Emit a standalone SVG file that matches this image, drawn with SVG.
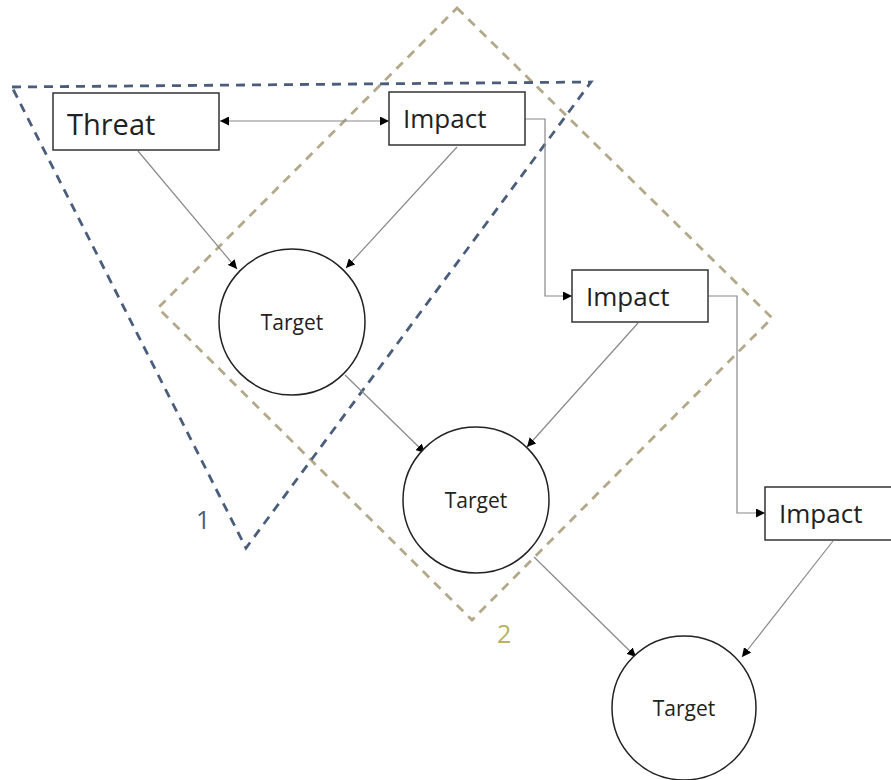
<svg xmlns="http://www.w3.org/2000/svg" width="891" height="780" viewBox="0 0 891 780">
<defs>
<marker id="ah" viewBox="0 0 10 10" refX="10" refY="5" markerWidth="9" markerHeight="9" markerUnits="userSpaceOnUse" orient="auto-start-reverse">
<path d="M0,0 L10,5 L0,10 Z" fill="#000"/>
</marker>
</defs>
<style>
.box{fill:#fff;stroke:#333;stroke-width:1.5}
.circ{fill:#fff;stroke:#222;stroke-width:1.5}
.lbl{font-family:"Open Sans","Liberation Sans",sans-serif;fill:#222}
.big{font-size:29px}
.imp{font-size:26px}
.tgt{font-size:21px}
.con{fill:none;stroke:#888;stroke-width:1.2}
.grp1{fill:none;stroke:#4a5d7a;stroke-width:2.8;stroke-dasharray:9,7}
.grp2{fill:none;stroke:#b3a98a;stroke-width:2.8;stroke-dasharray:9,7}
</style>
<rect width="891" height="780" fill="#fff"/>
<g id="group2">
<polygon class="grp2" points="457,8 772,318 472,620 158,308"/>
<text x="497" y="643" class="lbl" style="fill:#b8b25c;font-size:25px">2</text>
</g>
<g id="group1">
<polygon class="grp1" points="12,87 591,82 246,548"/>
<text x="196" y="529" class="lbl" style="fill:#4a5d7a;font-size:25px">1</text>
</g>
<g id="connectors">
<line class="con" x1="220" y1="121" x2="389" y2="121" marker-start="url(#ah)" marker-end="url(#ah)"/>
<line class="con" x1="138" y1="151" x2="237" y2="269" marker-end="url(#ah)"/>
<line class="con" x1="457" y1="147" x2="346" y2="268" marker-end="url(#ah)"/>
<polyline class="con" points="525,119 545,119 545,296 572,296" marker-end="url(#ah)"/>
<polyline class="con" points="708,296 737,296 737,513 765,513" marker-end="url(#ah)"/>
<line class="con" x1="345" y1="375" x2="425" y2="453" marker-end="url(#ah)"/>
<line class="con" x1="638" y1="323" x2="527" y2="447" marker-end="url(#ah)"/>
<line class="con" x1="534" y1="557" x2="636" y2="657" marker-end="url(#ah)"/>
<line class="con" x1="833" y1="541" x2="742" y2="657" marker-end="url(#ah)"/>
</g>
<g id="threat">
<rect class="box" x="53" y="93" width="166" height="57"/>
<text x="67" y="135" class="lbl big">Threat</text>
</g>
<g id="impact1">
<rect class="box" x="389" y="92" width="136" height="53"/>
<text x="403" y="128" class="lbl imp">Impact</text>
</g>
<g id="impact2">
<rect class="box" x="572" y="270" width="136" height="52"/>
<text x="586" y="306" class="lbl imp">Impact</text>
</g>
<g id="impact3">
<rect class="box" x="765" y="487" width="130" height="53"/>
<text x="779" y="523" class="lbl imp">Impact</text>
</g>
<g id="target1">
<circle class="circ" cx="292" cy="322" r="73"/>
<text x="292" y="330" class="lbl tgt" text-anchor="middle">Target</text>
</g>
<g id="target2">
<circle class="circ" cx="476" cy="500" r="73"/>
<text x="476" y="508" class="lbl tgt" text-anchor="middle">Target</text>
</g>
<g id="target3">
<circle class="circ" cx="684" cy="708" r="72"/>
<text x="684" y="716" class="lbl tgt" text-anchor="middle">Target</text>
</g>
</svg>
